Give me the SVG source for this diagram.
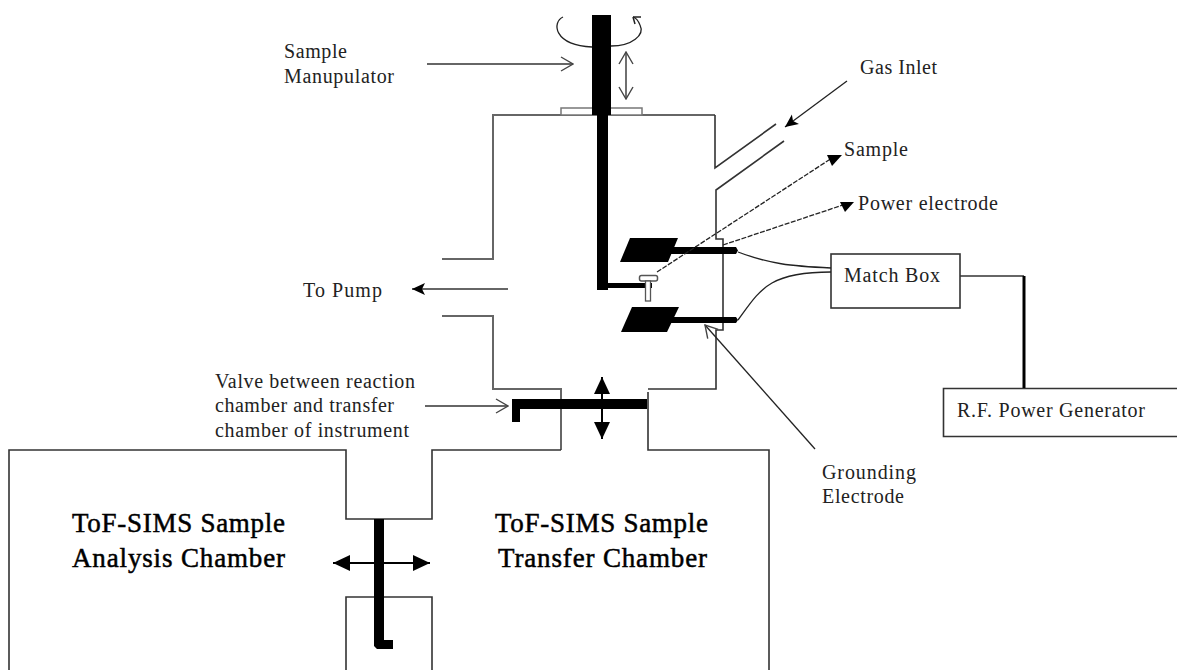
<svg xmlns="http://www.w3.org/2000/svg" width="1177" height="670" viewBox="0 0 1177 670">
<style>
text{font-family:"Liberation Serif","Times New Roman",serif;font-size:20px;fill:#222}
.big{font-size:27px;fill:#000;stroke:#000;stroke-width:.5}
.w{fill:none;stroke:#333;stroke-width:1.6}
.g{fill:none;stroke:#666;stroke-width:2}
.t{fill:none;stroke:#222;stroke-width:1.3}
.k{fill:#000;stroke:none}
.kl{fill:none;stroke:#000;stroke-linecap:butt}
</style>
<defs>
<marker id="open" markerUnits="userSpaceOnUse" viewBox="0 0 14 16" markerWidth="14" markerHeight="16" refX="13" refY="8" orient="auto-start-reverse"><path d="M1,1 L13,8 L1,15" fill="none" stroke="#444" stroke-width="1.400"/></marker>
<marker id="fill" markerUnits="userSpaceOnUse" viewBox="0 0 14 14" markerWidth="14" markerHeight="14" refX="13" refY="7" orient="auto-start-reverse"><path d="M0,1 L13,7 L0,13 L3,7 Z" fill="#000"/></marker>
<marker id="big" markerUnits="userSpaceOnUse" viewBox="0 0 18 16" markerWidth="18" markerHeight="16" refX="17" refY="8" orient="auto-start-reverse"><path d="M0,0 L17,8 L0,16 Z" fill="#000"/></marker>
</defs>
<g id="reaction-chamber">
<path class="g" d="M442,259 H493 V115 H715"/>
<path class="w" d="M715,115 V168 L776,124"/>
<path class="g" d="M442,316 H493 V389 H561 V450"/>
<path class="w" d="M784,141 L716,190 V239 H723 V330 H716 V389 H648"/>
<rect x="561" y="108" width="81" height="7" fill="#fff" stroke="#777" stroke-width="1.500"/>
</g>
<g id="tof-sims-chambers">
<path class="w" d="M9,670 V450 H346 V519 H432 V450 H561"/>
<path class="w" d="M648,392 V450 H769 V670"/>
<path class="w" d="M346,670 V597 H432 V670"/>
</g>
<g id="manipulator">
<rect class="k" x="592" y="15" width="19" height="100"/>
<path class="k" d="M597,115 H608 V283 H652 V288 H608 V290 H597 Z"/>
<rect x="639.500" y="275.500" width="18" height="5.500" rx="2" fill="#fff" stroke="#555" stroke-width="1.500"/>
<rect x="645.500" y="281" width="5" height="20" fill="#fff" stroke="#555" stroke-width="1.300"/>
</g>
<g id="upper-electrode">
<path class="k" d="M630,238 H678 L668,262 H620 Z"/>
<path class="k" d="M670,247 H736 L738,250.500 L736,254 H670 Z"/>
</g>
<g id="lower-electrode">
<path class="k" d="M632,307 H679 L667,332 H621 Z"/>
<path class="k" d="M670,317 H736 L738,320 L736,323 H670 Z"/>
</g>
<g id="valve">
<path class="k" d="M512,399 H647 V409 H520 V422 H512 Z"/>
</g>
<g id="transfer-rod">
<path class="k" d="M374,519 H384 V640 H393 V649 H377 L374,646 Z"/>
</g>
<g id="match-box">
<rect x="831" y="254" width="129" height="54" fill="#fff" stroke="#333" stroke-width="1.600"/>
<text x="844" y="282" textLength="96">Match Box</text>
</g>
<g id="rf-generator">
<path d="M1177,388.500 H943.500 V436.500 H1177" fill="#fff" stroke="#333" stroke-width="1.600"/>
<text x="957" y="417" textLength="188">R.F. Power Generator</text>
</g>
<g id="connectors">
<path class="t" d="M738,252 C770,264 790,266 831,268"/>
<path class="t" d="M738,320 C760,290 768,272 831,272"/>
<path class="w" d="M960,276 H1024"/>
<path d="M1024,276 V388" fill="none" stroke="#000" stroke-width="3"/>
<path class="g" d="M427,64 H573" marker-end="url(#open)"/>
<path class="t" d="M563,17 C552,22 553,45 592,47 M611,46 C632,46 645,35 640,25 C638,20 636,18 633,17" stroke-width="1.500"/>
<path d="M633,17 L635,24 M633,17 L641,17" fill="none" stroke="#222" stroke-width="1.500"/>
<path class="t" d="M626,52 V99" marker-start="url(#open)" marker-end="url(#open)"/>
<path class="t" d="M847,81 L785,127" marker-end="url(#fill)"/>
<path class="t" d="M657,272 L832,158" stroke-dasharray="5 1.500"/>
<polygon class="k" points="827,155 842,155 832,166"/>
<path class="t" d="M723,245 L843,205" stroke-dasharray="5 1.500"/>
<polygon class="k" points="840,202 854,202 845,212"/>
<path class="t" d="M815,449 L705,325" marker-end="url(#open)"/>
<path d="M508,289 H412" fill="none" stroke="#333" stroke-width="1.600" marker-end="url(#fill)"/>
<path class="g" d="M425,406 H508" marker-end="url(#open)"/>
<path d="M602,377 V439" class="kl" stroke-width="2" marker-start="url(#big)" marker-end="url(#big)"/>
<path d="M333,563 H430" class="kl" stroke-width="2" marker-start="url(#big)" marker-end="url(#big)"/>
</g>
<g id="labels">
<text x="284" y="58" textLength="63">Sample</text>
<text x="284" y="83" textLength="110">Manupulator</text>
<text x="860" y="74" textLength="77">Gas Inlet</text>
<text x="844" y="156" textLength="64">Sample</text>
<text x="858" y="210" textLength="140">Power electrode</text>
<text x="303" y="297" textLength="79">To Pump</text>
<text x="215" y="388" textLength="200">Valve between reaction</text>
<text x="215" y="412" textLength="179">chamber and transfer</text>
<text x="215" y="437" textLength="194">chamber of instrument</text>
<text x="822" y="479" textLength="94">Grounding</text>
<text x="822" y="503" textLength="82">Electrode</text>
<text class="big" x="72" y="532" textLength="213">ToF-SIMS Sample</text>
<text class="big" x="72" y="567" textLength="213">Analysis Chamber</text>
<text class="big" x="495" y="532" textLength="213">ToF-SIMS Sample</text>
<text class="big" x="498" y="567" textLength="209">Transfer Chamber</text>
</g>
</svg>
